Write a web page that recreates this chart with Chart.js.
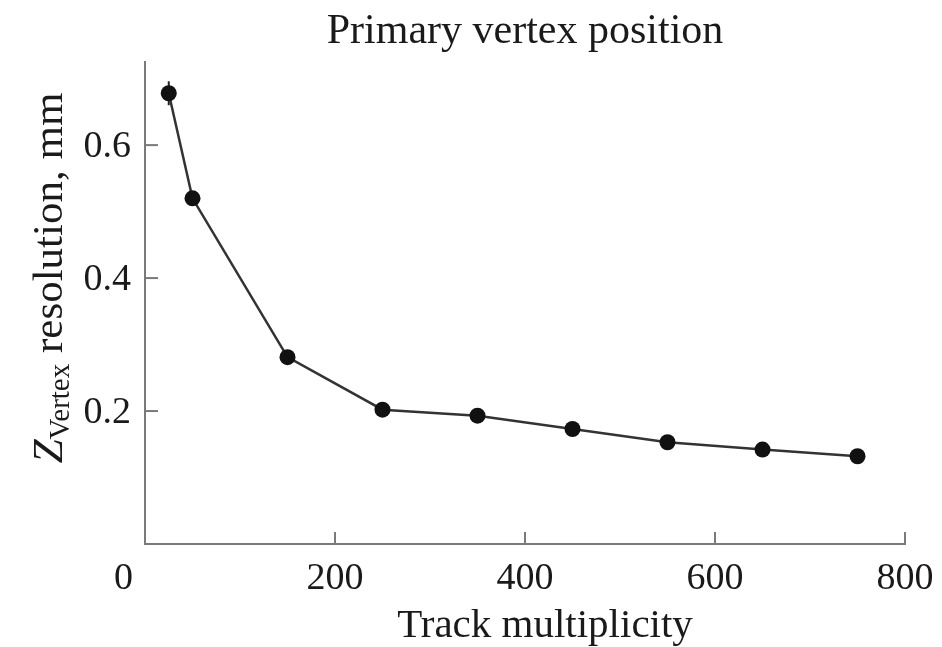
<!DOCTYPE html>
<html>
<head>
<meta charset="utf-8">
<script src="https://cdn.jsdelivr.net/npm/chart.js@4.4.0/dist/chart.umd.min.js"></script>
<style>
  html, body { margin: 0; padding: 0; background: #fff; }
  canvas { display: block; }
</style>
</head>
<body>
<canvas id="vertexChart" width="942" height="647"></canvas>
<script>
// Track multiplicity vs. Z vertex resolution (mm)
const multiplicity = [25, 50, 150, 250, 350, 450, 550, 650, 750];
const resolution = [0.678, 0.520, 0.281, 0.202, 0.193, 0.173, 0.153, 0.142, 0.132];
const resolutionErr = [0.018, 0, 0, 0, 0, 0, 0, 0, 0];

const xTicks = [0, 200, 400, 600, 800];
const yTicks = [0.2, 0.4, 0.6];

const serif = '"Liberation Serif", "DejaVu Serif", serif';
const axisColor = '#7a7a7a';
const textColor = '#1a1a1a';

// draws inward tick marks, tick labels, axis titles and the error bar
const axisDecor = {
    id: 'axisDecor',
    beforeDatasetsDraw(chart) {
        const ctx = chart.ctx;
        const x = chart.scales.x;
        const y = chart.scales.y;

        ctx.save();
        ctx.strokeStyle = '#222';
        ctx.lineWidth = 2;
        resolutionErr.forEach((err, i) => {
            if (!err) return;
            const px = x.getPixelForValue(multiplicity[i]);
            ctx.beginPath();
            ctx.moveTo(px, y.getPixelForValue(resolution[i] + err));
            ctx.lineTo(px, y.getPixelForValue(resolution[i] - err));
            ctx.stroke();
        });
        ctx.restore();
    },
    afterDraw(chart) {
        const ctx = chart.ctx;
        const x = chart.scales.x;
        const y = chart.scales.y;
        const area = chart.chartArea;

        ctx.save();
        ctx.strokeStyle = axisColor;
        ctx.lineWidth = 2;
        xTicks.forEach(v => {
            if (v === 0) return;
            const px = x.getPixelForValue(v);
            ctx.beginPath();
            ctx.moveTo(px, area.bottom);
            ctx.lineTo(px, area.bottom - 12);
            ctx.stroke();
        });
        yTicks.forEach(v => {
            const py = y.getPixelForValue(v);
            ctx.beginPath();
            ctx.moveTo(area.left, py);
            ctx.lineTo(area.left + 13, py);
            ctx.stroke();
        });

        ctx.fillStyle = textColor;
        ctx.font = '38px ' + serif;
        ctx.textBaseline = 'middle';
        xTicks.forEach(v => {
            const px = x.getPixelForValue(v);
            if (v === 0) {
                ctx.textAlign = 'right';
                ctx.fillText(String(v), px - 12, area.bottom + 35);
            } else {
                ctx.textAlign = 'center';
                ctx.fillText(String(v), px, area.bottom + 35);
            }
        });
        ctx.textAlign = 'right';
        yTicks.forEach(v => {
            ctx.fillText(v.toFixed(1), area.left - 14, y.getPixelForValue(v) + 2);
        });

        // titles
        ctx.textAlign = 'center';
        ctx.textBaseline = 'alphabetic';
        ctx.font = '42px ' + serif;
        ctx.fillText('Primary vertex position', (area.left + area.right) / 2, 43);
        ctx.font = '41px ' + serif;
        ctx.fillText('Track multiplicity', 545, 637);

        // rotated y title with subscript
        const parts = [
            { t: 'Z', size: 43, dy: 0, italic: true },
            { t: 'Vertex', size: 29, dy: 7 },
            { t: ' resolution, mm', size: 43, dy: 0 }
        ];
        let total = 0;
        parts.forEach(p => {
            ctx.font = (p.italic ? 'italic ' : '') + p.size + 'px ' + serif;
            p.w = ctx.measureText(p.t).width;
            total += p.w;
        });
        ctx.translate(62, 278);
        ctx.rotate(-Math.PI / 2);
        ctx.textAlign = 'left';
        let cx = -total / 2;
        parts.forEach(p => {
            ctx.font = (p.italic ? 'italic ' : '') + p.size + 'px ' + serif;
            ctx.fillText(p.t, cx, p.dy);
            cx += p.w;
        });
        ctx.restore();
    }
};

new Chart(document.getElementById('vertexChart'), {
    type: 'line',
    data: {
        datasets: [{
            data: multiplicity.map((m, i) => ({ x: m, y: resolution[i] })),
            borderColor: '#333',
            borderWidth: 2.5,
            pointRadius: 8,
            pointBackgroundColor: '#111',
            pointBorderWidth: 0,
            tension: 0,
            fill: false,
            clip: false
        }]
    },
    options: {
        responsive: false,
        animation: false,
        devicePixelRatio: 1,
        layout: { padding: { left: 145, right: 37, top: 62, bottom: 103 } },
        plugins: {
            legend: { display: false },
            tooltip: { enabled: false }
        },
        scales: {
            x: {
                type: 'linear',
                min: 0,
                max: 800,
                grid: { display: false, drawTicks: false },
                border: { display: true, color: axisColor, width: 2 },
                ticks: { display: false }
            },
            y: {
                min: 0,
                max: 0.725,
                grid: { display: false, drawTicks: false },
                border: { display: true, color: axisColor, width: 2 },
                ticks: { display: false }
            }
        }
    },
    plugins: [axisDecor]
});
</script>
</body>
</html>
